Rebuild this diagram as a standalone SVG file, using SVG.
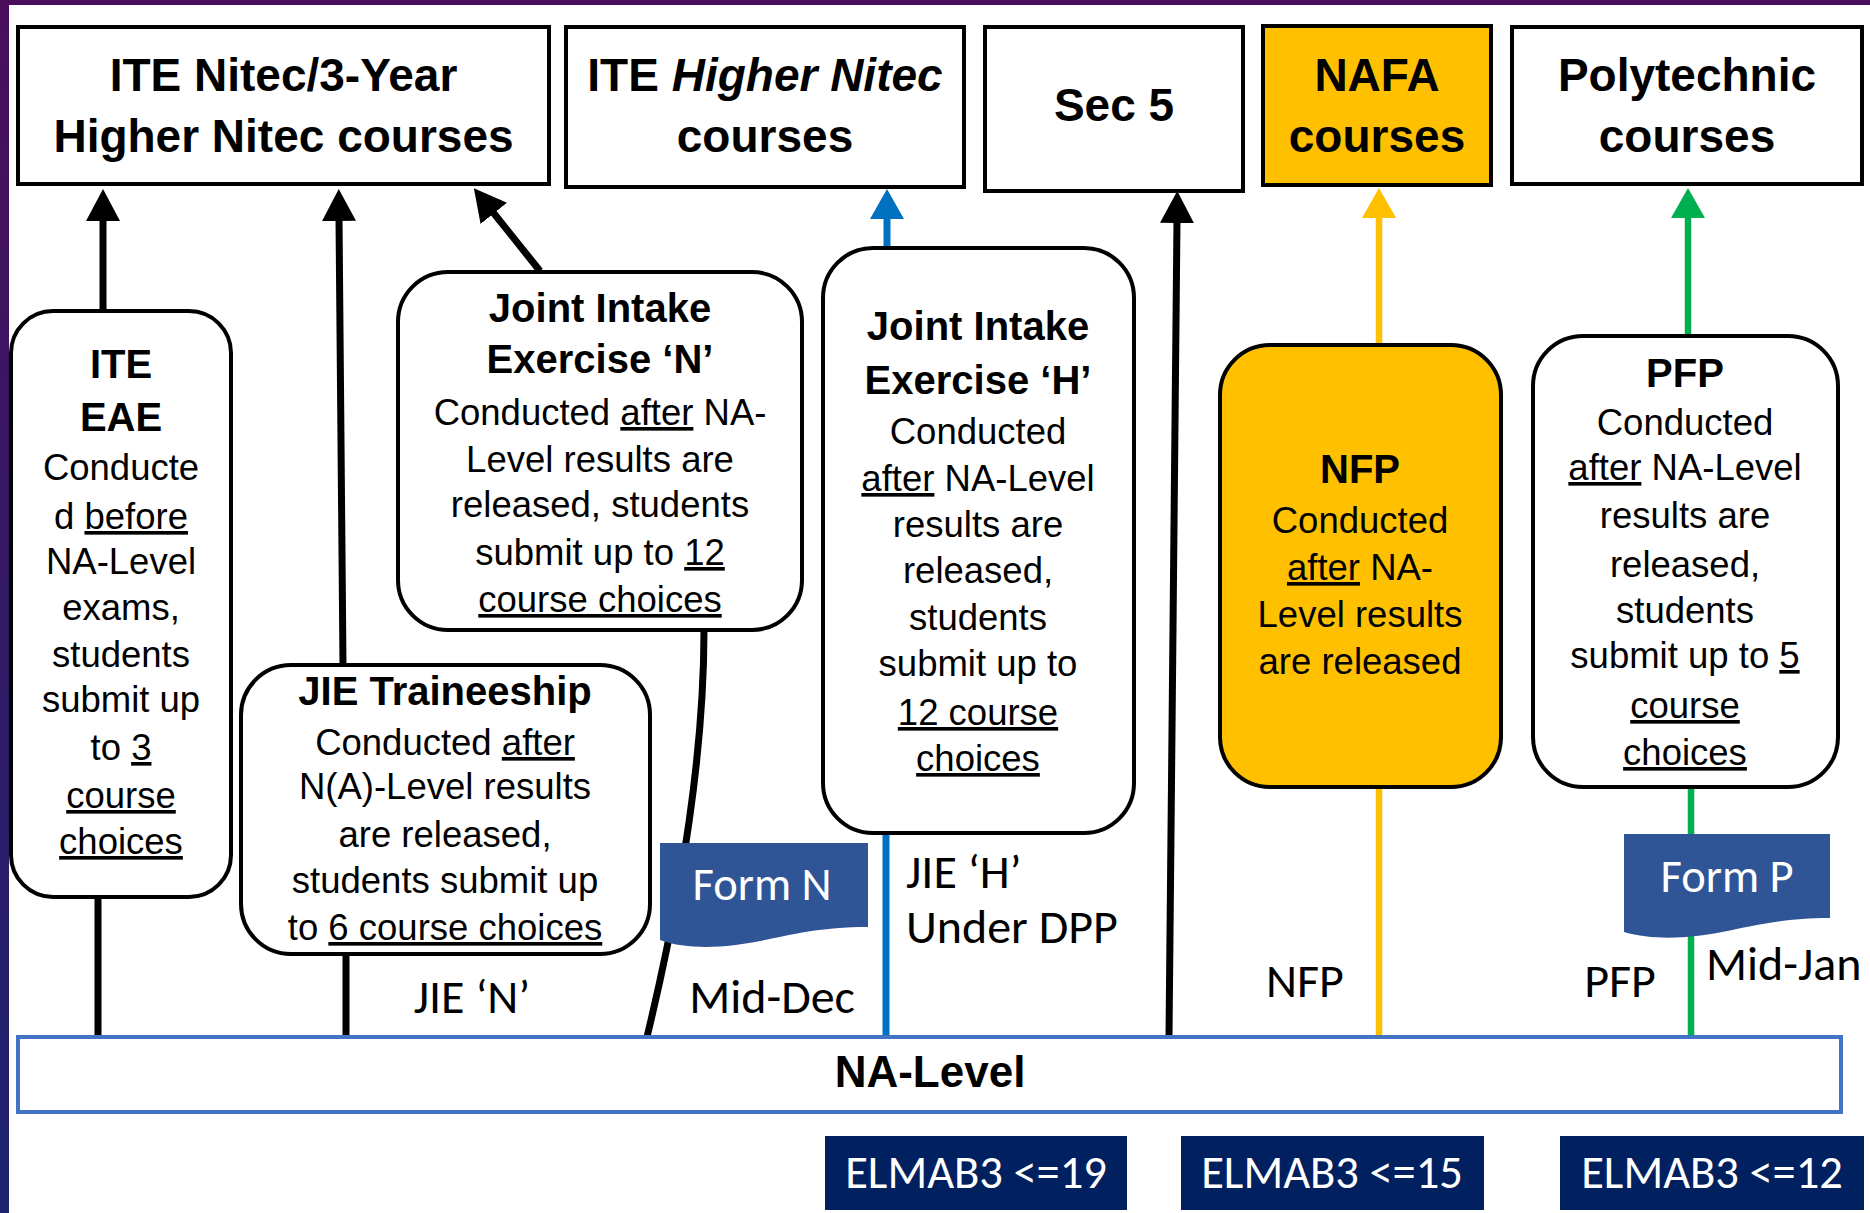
<svg xmlns="http://www.w3.org/2000/svg" width="1870" height="1213" viewBox="0 0 1870 1213">
<defs>
<linearGradient id="edge" x1="0" y1="0" x2="0" y2="1">
<stop offset="0" stop-color="#4a0f5c"/>
<stop offset="1" stop-color="#1d2470"/>
</linearGradient>
<marker id="ah-black" viewBox="0 0 32 34" refX="3" refY="17" markerWidth="32" markerHeight="34" markerUnits="userSpaceOnUse" orient="auto"><path d="M0,0 L32,17 L0,34 Z" fill="#000"/></marker>
<marker id="ah-blue" viewBox="0 0 30 34" refX="3" refY="17" markerWidth="30" markerHeight="34" markerUnits="userSpaceOnUse" orient="auto"><path d="M0,0 L30,17 L0,34 Z" fill="#0070C0"/></marker>
<marker id="ah-yellow" viewBox="0 0 30 34" refX="3" refY="17" markerWidth="30" markerHeight="34" markerUnits="userSpaceOnUse" orient="auto"><path d="M0,0 L30,17 L0,34 Z" fill="#FFC000"/></marker>
<marker id="ah-green" viewBox="0 0 30 34" refX="3" refY="17" markerWidth="30" markerHeight="34" markerUnits="userSpaceOnUse" orient="auto"><path d="M0,0 L30,17 L0,34 Z" fill="#00B050"/></marker>
</defs>
<style>
.box{fill:#fff;stroke:#000;stroke-width:4}
.rbox{fill:#fff;stroke:#000;stroke-width:4}
.yel{fill:#FFC000}
.ttl{font-family:"Liberation Sans",Arial,sans-serif;font-weight:bold;font-size:46px;text-anchor:middle;fill:#000}
.hd{font-family:"Liberation Sans",Arial,sans-serif;font-weight:bold;font-size:40px;text-anchor:middle;fill:#000}
.bd{font-family:"Liberation Sans",Arial,sans-serif;font-size:36.5px;text-anchor:middle;fill:#000}
.u{text-decoration:underline}
.lbl{font-family:Carlito,Lato,"Open Sans",sans-serif;font-size:48px;fill:#000}
.wl{font-family:Carlito,Lato,"Open Sans",sans-serif;font-size:46.5px;fill:#fff;text-anchor:middle}
.k{stroke:#000;stroke-width:7;fill:none}
.form{fill:#2F5597}
.elm{fill:#002060}
</style>
<rect x="0" y="0" width="1870" height="1213" fill="#fff"/>
<rect x="0" y="0" width="1870" height="5" fill="#4a0f5c"/>
<rect x="0" y="0" width="9" height="1213" fill="url(#edge)"/>

<g id="connectors">
<line class="k" x1="103" y1="311" x2="103" y2="218" marker-end="url(#ah-black)"/>
<line class="k" x1="98" y1="897" x2="98" y2="1037"/>
<line class="k" x1="343" y1="665" x2="339" y2="218" marker-end="url(#ah-black)"/>
<line class="k" x1="346" y1="954" x2="346" y2="1037"/>
<line class="k" x1="540" y1="271" x2="492" y2="211" marker-end="url(#ah-black)"/>
<path class="k" d="M704,630 C704,760 680,900 647,1037"/>
<line x1="887" y1="248" x2="887" y2="216" stroke="#0070C0" stroke-width="7" marker-end="url(#ah-blue)"/>
<line x1="886" y1="833" x2="886" y2="1037" stroke="#0070C0" stroke-width="7"/>
<line class="k" x1="1169" y1="1037" x2="1177" y2="220" marker-end="url(#ah-black)"/>
<line x1="1379" y1="345" x2="1379" y2="215" stroke="#FFC000" stroke-width="6.5" marker-end="url(#ah-yellow)"/>
<line x1="1379" y1="787" x2="1379" y2="1037" stroke="#FFC000" stroke-width="6.5"/>
<line x1="1688" y1="336" x2="1688" y2="215" stroke="#00B050" stroke-width="6.5" marker-end="url(#ah-green)"/>
<line x1="1691" y1="787" x2="1691" y2="1037" stroke="#00B050" stroke-width="6.5"/>
</g>

<g id="ite-nitec">
<rect class="box" x="18" y="27" width="531" height="157"/>
<text class="ttl" x="283.5" y="91">ITE Nitec/3-Year</text>
<text class="ttl" x="283.5" y="152">Higher Nitec courses</text>
</g>
<g id="ite-higher-nitec">
<rect class="box" x="566" y="27" width="398" height="160"/>
<text class="ttl" x="765" y="91">ITE <tspan font-style="italic">Higher Nitec</tspan></text>
<text class="ttl" x="765" y="152">courses</text>
</g>
<g id="sec5">
<rect class="box" x="985" y="27" width="258" height="164"/>
<text class="ttl" x="1114" y="121">Sec 5</text>
</g>
<g id="nafa">
<rect class="box yel" x="1263" y="26" width="228" height="159"/>
<text class="ttl" x="1377" y="91">NAFA</text>
<text class="ttl" x="1377" y="152">courses</text>
</g>
<g id="poly">
<rect class="box" x="1512" y="27" width="350" height="157"/>
<text class="ttl" x="1687" y="91">Polytechnic</text>
<text class="ttl" x="1687" y="152">courses</text>
</g>

<g id="ite-eae">
<rect class="rbox" x="11" y="311" width="220" height="586" rx="42" ry="42"/>
<text class="hd" x="121" y="378">ITE</text>
<text class="hd" x="121" y="431">EAE</text>
<text class="bd" x="121" y="480">Conducte</text>
<text class="bd" x="121" y="529">d <tspan class="u">before</tspan></text>
<text class="bd" x="121" y="574">NA-Level</text>
<text class="bd" x="121" y="620">exams,</text>
<text class="bd" x="121" y="667">students</text>
<text class="bd" x="121" y="712">submit up</text>
<text class="bd" x="121" y="760">to <tspan class="u">3</tspan></text>
<text class="bd u" x="121" y="808">course</text>
<text class="bd u" x="121" y="854">choices</text>
</g>

<g id="jie-n">
<rect class="rbox" x="398" y="272" width="404" height="358" rx="50" ry="50"/>
<text class="hd" x="600" y="322">Joint Intake</text>
<text class="hd" x="600" y="373">Exercise ‘N’</text>
<text class="bd" x="600" y="425">Conducted <tspan class="u">after</tspan> NA-</text>
<text class="bd" x="600" y="472">Level results are</text>
<text class="bd" x="600" y="517">released, students</text>
<text class="bd" x="600" y="565">submit up to <tspan class="u">12</tspan></text>
<text class="bd u" x="600" y="612">course choices</text>
</g>

<g id="jie-traineeship">
<rect class="rbox" x="241" y="665" width="409" height="289" rx="50" ry="50"/>
<text class="hd" x="445" y="705">JIE Traineeship</text>
<text class="bd" x="445" y="755">Conducted <tspan class="u">after</tspan></text>
<text class="bd" x="445" y="799">N(A)-Level results</text>
<text class="bd" x="445" y="847">are released,</text>
<text class="bd" x="445" y="893">students submit up</text>
<text class="bd" x="445" y="940">to <tspan class="u">6 course choices</tspan></text>
</g>

<g id="jie-h">
<rect class="rbox" x="823" y="248" width="311" height="585" rx="50" ry="50"/>
<text class="hd" x="978" y="340">Joint Intake</text>
<text class="hd" x="978" y="394">Exercise ‘H’</text>
<text class="bd" x="978" y="444">Conducted</text>
<text class="bd" x="978" y="491"><tspan class="u">after</tspan> NA-Level</text>
<text class="bd" x="978" y="537">results are</text>
<text class="bd" x="978" y="583">released,</text>
<text class="bd" x="978" y="630">students</text>
<text class="bd" x="978" y="676">submit up to</text>
<text class="bd u" x="978" y="725">12 course</text>
<text class="bd u" x="978" y="771">choices</text>
</g>

<g id="nfp">
<rect class="rbox yel" x="1220" y="345" width="281" height="442" rx="50" ry="50"/>
<text class="hd" x="1360" y="483">NFP</text>
<text class="bd" x="1360" y="533">Conducted</text>
<text class="bd" x="1360" y="580"><tspan class="u">after</tspan> NA-</text>
<text class="bd" x="1360" y="627">Level results</text>
<text class="bd" x="1360" y="674">are released</text>
</g>

<g id="pfp">
<rect class="rbox" x="1533" y="336" width="305" height="451" rx="50" ry="50"/>
<text class="hd" x="1685" y="387">PFP</text>
<text class="bd" x="1685" y="435">Conducted</text>
<text class="bd" x="1685" y="480"><tspan class="u">after</tspan> NA-Level</text>
<text class="bd" x="1685" y="528">results are</text>
<text class="bd" x="1685" y="577">released,</text>
<text class="bd" x="1685" y="623">students</text>
<text class="bd" x="1685" y="668">submit up to <tspan class="u">5</tspan></text>
<text class="bd u" x="1685" y="718">course</text>
<text class="bd u" x="1685" y="765">choices</text>
</g>

<g id="form-n">
<path class="form" d="M660,843 H868 V927 C820,927 790,935 760,941 C730,947 690,951 660,940 Z"/>
<text class="wl" x="762" y="900">Form N</text>
</g>
<g id="form-p">
<path class="form" d="M1624,834 H1830 V918 C1782,918 1752,926 1722,932 C1692,938 1654,941 1624,932 Z"/>
<text class="wl" x="1727" y="892">Form P</text>
</g>

<g id="labels">
<text class="lbl" x="472" y="1013" text-anchor="middle">JIE ‘N’</text>
<text class="lbl" x="772" y="1013" text-anchor="middle">Mid-Dec</text>
<text class="lbl" x="906" y="888">JIE ‘H’</text>
<text class="lbl" x="906" y="943">Under DPP</text>
<text class="lbl" x="1305" y="997" text-anchor="middle">NFP</text>
<text class="lbl" x="1620" y="997" text-anchor="middle">PFP</text>
<text class="lbl" x="1706" y="980">Mid-Jan</text>
</g>

<g id="na-level">
<rect x="18" y="1037" width="1823" height="75" fill="#fff" stroke="#4472C4" stroke-width="4"/>
<text class="ttl" x="930" y="1087" style="font-size:44px">NA-Level</text>
</g>

<g id="elmab3-19">
<rect class="elm" x="825" y="1136" width="302" height="74"/>
<text class="wl" x="976" y="1188">ELMAB3 &lt;=19</text>
</g>
<g id="elmab3-15">
<rect class="elm" x="1181" y="1136" width="303" height="74"/>
<text class="wl" x="1332" y="1188">ELMAB3 &lt;=15</text>
</g>
<g id="elmab3-12">
<rect class="elm" x="1560" y="1136" width="304" height="74"/>
<text class="wl" x="1712" y="1188">ELMAB3 &lt;=12</text>
</g>
</svg>
